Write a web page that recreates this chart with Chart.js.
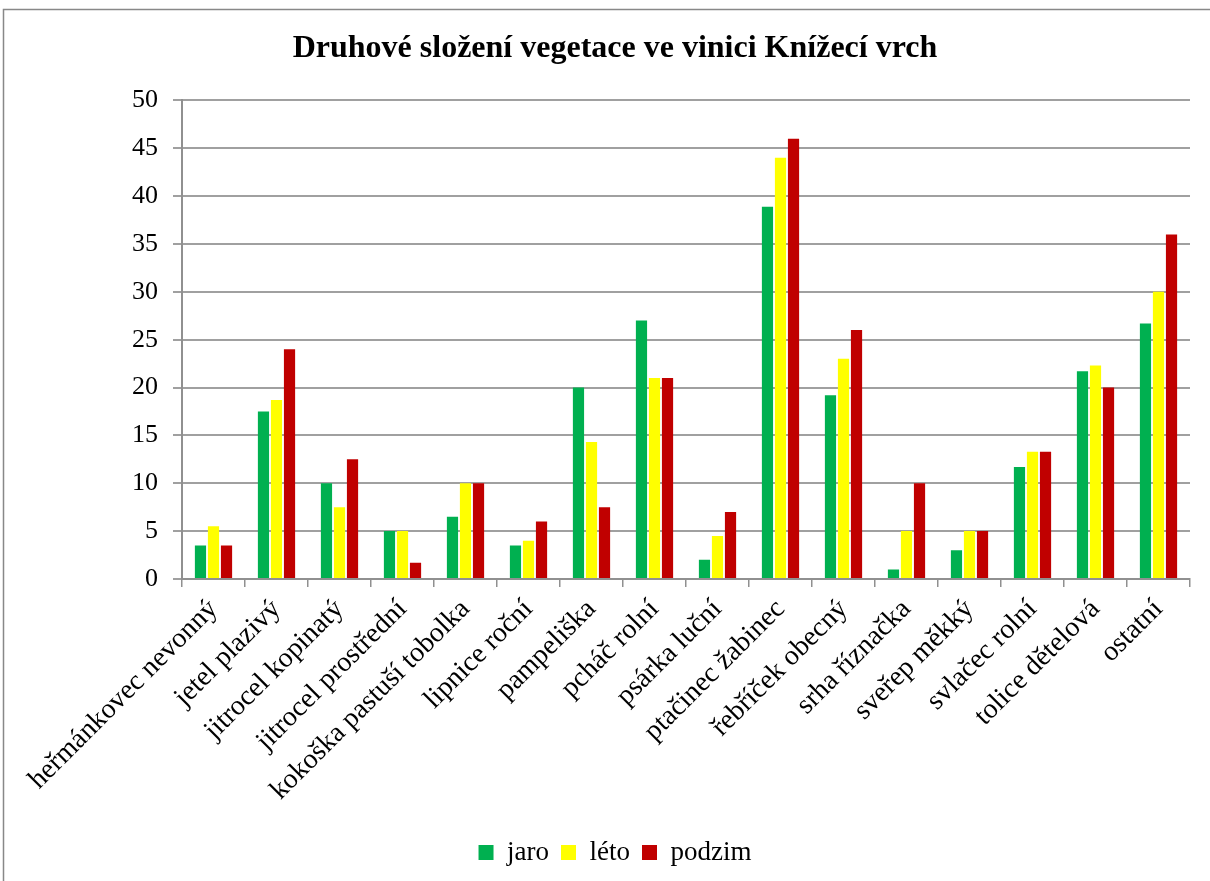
<!DOCTYPE html>
<html>
<head>
<meta charset="utf-8">
<script src="https://cdn.jsdelivr.net/npm/chart.js@4.4.1/dist/chart.umd.min.js"></script>
<style>
  html, body { margin: 0; padding: 0; background: #fff; }
  #wrap { position: absolute; left: 0; top: 0; width: 1210px; height: 881px; }
</style>
</head>
<body>
<div id="wrap"><canvas id="c" width="1210" height="881"></canvas></div>
<script>
const categories = [
  "heřmánkovec nevonný", "jetel plazivý", "jitrocel kopinatý", "jitrocel prostřední",
  "kokoška pastuší tobolka", "lipnice roční", "pampeliška", "pcháč rolní",
  "psárka luční", "ptačinec žabinec", "řebříček obecný", "srha říznačka",
  "sveřep měkký", "svlačec rolní", "tolice dětelová", "ostatní"
];
const jaro   = [3.5, 17.5, 10, 5, 6.5, 3.5, 20, 27, 2, 38.9, 19.2, 1, 3, 11.7, 21.7, 26.7];
const leto   = [5.5, 18.7, 7.5, 5, 10, 4, 14.3, 21, 4.5, 44, 23, 5, 5, 13.3, 22.3, 30];
const podzim = [3.5, 24, 12.5, 1.7, 10, 6, 7.5, 21, 7, 46, 26, 10, 5, 13.3, 20, 36];
const yTicks = [0, 5, 10, 15, 20, 25, 30, 35, 40, 45, 50];

const borderPlugin = {
  id: 'outerBorder',
  beforeDraw(chart) {
    const ctx = chart.ctx;
    ctx.save();
    ctx.fillStyle = '#fff';
    ctx.fillRect(0, 0, chart.width, chart.height);
    ctx.strokeStyle = '#888';
    ctx.lineWidth = 1.5;
    ctx.strokeRect(3.5, 9.5, 1400, 1000);
    ctx.restore();
  }
};

const font = '"Liberation Serif", "Times New Roman", serif';

new Chart(document.getElementById('c'), {
  type: 'bar',
  data: {
    labels: categories,
    datasets: [
      { label: 'jaro', data: jaro, backgroundColor: '#00b050' },
      { label: 'léto', data: leto, backgroundColor: '#ffff00' },
      { label: 'podzim', data: podzim, backgroundColor: '#c00000' }
    ]
  },
  options: {
    responsive: false,
    animation: false,
    layout: { padding: { left: 40, right: 20, top: 10, bottom: 5 } },
    datasets: { bar: { categoryPercentage: 0.62, barPercentage: 0.86 } },
    plugins: {
      title: {
        display: true,
        text: 'Druhové složení vegetace ve vinici Knížecí vrch',
        color: '#000',
        font: { family: font, size: 32, weight: 'bold' },
        padding: { top: 20, bottom: 32 }
      },
      legend: {
        position: 'bottom',
        labels: {
          color: '#000',
          font: { family: font, size: 27 },
          boxWidth: 15, boxHeight: 15, padding: 12
        }
      },
      tooltip: { enabled: false }
    },
    scales: {
      x: {
        afterFit(scale) { scale.height += 14; },
        grid: { display: true, drawOnChartArea: false, offset: true, color: '#909090', lineWidth: 1.5, tickLength: 8 },
        border: { color: '#909090', width: 2 },
        ticks: { color: '#000', font: { family: font, size: 28 }, maxRotation: 45, minRotation: 45, autoSkip: false, padding: 6 }
      },
      y: {
        min: 0, max: 50,
        afterFit(scale) { scale.width = 142; },
        afterBuildTicks(axis) { axis.ticks = yTicks.map(v => ({ value: v })); },
        grid: { color: '#a0a0a0', lineWidth: 2, tickLength: 9 },
        border: { color: '#909090', width: 2 },
        ticks: { color: '#000', font: { family: font, size: 26 }, padding: 15 }
      }
    }
  },
  plugins: [borderPlugin]
});
</script>
</body>
</html>
